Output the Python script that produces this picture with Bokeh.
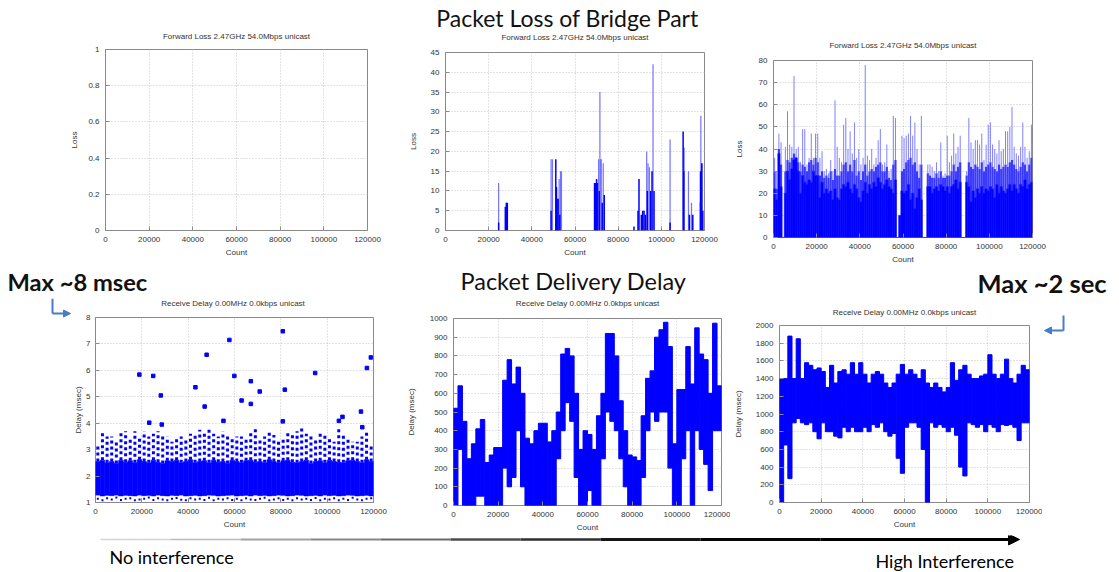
from bokeh.plotting import figure
from bokeh.layouts import column, row
from bokeh.models import (Range1d, FixedTicker, BasicTickFormatter, PrintfTickFormatter,
                          Label, Arrow, NormalHead)
from bokeh.embed import file_html
from bokeh.resources import INLINE

# ---------------------------------------------------------------- data
count_ticks = [0, 20000, 40000, 60000, 80000, 100000, 120000]
loss_title = "Forward Loss 2.47GHz 54.0Mbps unicast"
delay_title = "Receive Delay 0.00MHz 0.0kbps unicast"

# plot 1 (no interference): no loss at all
loss1_ticks = [0, 0.2, 0.4, 0.6, 0.8, 1.0]

# plot 2 (moderate interference): loss spikes
loss2_dark_x = [24620, 27720, 28180, 28650, 48930, 51100, 51410, 51720, 52180, 52960,
                69060, 69520, 69990, 70300, 71230, 72620, 73550, 87330, 89190, 89650,
                90740, 91360, 91980, 92600, 93520, 95070, 95690, 96620, 104050, 110100,
                110410, 113030, 114580, 118150, 118760, 119220]
loss2_dark_y = [2, 6, 7, 7, 5, 18, 11, 8, 8, 4,
                12, 12, 13, 12, 10, 7, 9, 1, 5, 13,
                4, 5, 5, 4, 10, 10, 15, 10, 2, 25,
                15, 4, 4, 15, 17, 5]
loss2_light_x = [24620, 48930, 49550, 52650, 53270, 53730, 70920, 71540, 71850, 72160,
                 73080, 93210, 93830, 94450, 96150, 104050, 110560, 112570, 113970, 117990,
                 118300, 118760]
loss2_light_y = [12, 18, 18, 13, 15, 15, 18, 35, 18, 18,
                 17, 20, 17, 16, 42, 23, 21, 15, 7, 7,
                 29, 17]
loss2_ticks = [0, 5, 10, 15, 20, 25, 30, 35, 40, 45]

# plot 3 (high interference): loss per 1000-count bin
loss3_bin_start = list(range(0, 120000, 1000))
loss3_base = [22, 17, 38, 23, 0, 20, 30, 26, 31, 35,
              36, 30, 20, 28, 25, 24, 26, 25, 30, 28,
              28, 18, 25, 20, 22, 20, 21, 17, 22, 18,
              17, 22, 24, 23, 25, 22, 20, 24, 22, 18,
              16, 21, 25, 20, 24, 22, 25, 23, 27, 25,
              22, 24, 26, 23, 22, 20, 26, 0, 10, 21,
              20, 21, 24, 17, 20, 13, 18, 22, 17, 0,
              0, 23, 23, 20, 22, 23, 21, 24, 23, 21,
              23, 20, 23, 24, 26, 22, 25, 0, 0, 25,
              23, 16, 21, 18, 22, 20, 23, 20, 22, 21,
              23, 22, 18, 24, 20, 23, 21, 20, 22, 24,
              21, 24, 22, 20, 24, 23, 26, 22, 24, 25]
loss3_mid = [30, 22, 40, 33, 0, 30, 35, 34, 36, 38,
             36, 34, 30, 33, 32, 30, 34, 35, 33, 36,
             34, 28, 30, 27, 28, 27, 30, 26, 31, 28,
             28, 30, 33, 34, 30, 33, 30, 35, 28, 30,
             26, 30, 33, 28, 30, 31, 30, 32, 33, 34,
             30, 30, 32, 27, 26, 33, 35, 0, 10, 30,
             31, 34, 35, 36, 33, 34, 30, 27, 33, 0,
             0, 29, 28, 27, 27, 29, 27, 30, 27, 27,
             28, 28, 30, 33, 30, 32, 34, 0, 0, 28,
             34, 32, 31, 33, 32, 31, 34, 30, 32, 33,
             34, 32, 31, 30, 33, 31, 32, 33, 32, 34,
             35, 33, 31, 30, 32, 34, 33, 30, 33, 36]
loss3_peak = [36, 30, 47, 43, 0, 41, 57, 42, 41, 73,
              40, 41, 34, 49, 49, 33, 36, 47, 36, 47,
              47, 36, 39, 30, 31, 29, 35, 30, 62, 41,
              36, 34, 51, 54, 40, 48, 38, 52, 36, 40,
              33, 36, 78, 37, 35, 40, 33, 36, 44, 49,
              33, 34, 42, 30, 31, 55, 54, 0, 10, 46,
              45, 46, 47, 55, 46, 52, 40, 33, 55, 0,
              0, 33, 33, 32, 30, 34, 30, 43, 28, 29,
              46, 34, 37, 47, 38, 41, 46, 0, 0, 30,
              54, 43, 40, 44, 44, 42, 47, 35, 42, 51,
              52, 42, 40, 38, 44, 39, 40, 48, 48, 50,
              59, 41, 38, 37, 41, 52, 41, 36, 39, 51]
loss3_ticks = [0, 10, 20, 30, 40, 50, 60, 70, 80]

# plot 4 (no interference): delay per 2000-count bin (msec)
bin2k_start = list(range(0, 120000, 2000))
delay4_lo = [1.28, 1.25, 1.27, 1.26, 1.28, 1.25, 1.27, 1.26, 1.25, 1.28,
             1.26, 1.27, 1.25, 1.28, 1.26, 1.25, 1.27, 1.26, 1.28, 1.25,
             1.26, 1.27, 1.25, 1.26, 1.28, 1.27, 1.25, 1.26, 1.27, 1.28,
             1.25, 1.26, 1.27, 1.25, 1.28, 1.26, 1.27, 1.25, 1.26, 1.28,
             1.27, 1.25, 1.26, 1.28, 1.27, 1.25, 1.26, 1.27, 1.25, 1.28,
             1.26, 1.27, 1.25, 1.26, 1.28, 1.27, 1.25, 1.26, 1.27, 1.25]
delay4_hi = [2.55, 2.6, 2.5, 2.55, 2.48, 2.6, 2.52, 2.58, 2.5, 2.62,
             2.55, 2.5, 2.6, 2.52, 2.48, 2.58, 2.55, 2.6, 2.5, 2.55,
             2.62, 2.5, 2.55, 2.58, 2.5, 2.6, 2.52, 2.55, 2.48, 2.6,
             2.55, 2.5, 2.58, 2.6, 2.52, 2.55, 2.5, 2.62, 2.55, 2.5,
             2.58, 2.6, 2.52, 2.5, 2.55, 2.6, 2.48, 2.55, 2.58, 2.5,
             2.6, 2.55, 2.52, 2.5, 2.58, 2.6, 2.55, 2.5, 2.62, 2.55]
delay4_sparse_max = [3.2, 3.7, 3.5, 3.5, 3.3, 3.7, 3.7, 3.4, 3.7, 3.5,
                     3.7, 3.5, 3.6, 3.7, 3.6, 3.5, 3.3, 3.4, 3.5, 3.4,
                     3.6, 3.6, 3.75, 3.6, 3.8, 3.6, 3.5, 3.7, 3.6, 3.5,
                     3.5, 3.5, 3.4, 3.65, 3.8, 3.4, 3.5, 3.7, 3.55, 3.4,
                     3.4, 3.7, 3.6, 3.7, 3.8, 3.6, 3.6, 3.4, 3.6, 3.6,
                     3.5, 3.3, 3.85, 3.6, 3.4, 3.3, 3.3, 3.5, 3.7, 3.2]
delay4_sparse_min = [1.1, 1.05, 1.12, 1.08, 1.15, 1.06, 1.1, 1.12, 1.05, 1.08,
                     1.1, 1.15, 1.06, 1.12, 1.08, 1.05, 1.1, 1.13, 1.07, 1.05,
                     1.12, 1.08, 1.1, 1.06, 1.14, 1.05, 1.1, 1.08, 1.12, 1.06,
                     1.1, 1.05, 1.12, 1.08, 1.06, 1.1, 1.14, 1.05, 1.08, 1.12,
                     1.06, 1.1, 1.05, 1.12, 1.08, 1.1, 1.06, 1.13, 1.05, 1.1,
                     1.08, 1.12, 1.05, 1.1, 1.06, 1.14, 1.08, 1.05, 1.1, 1.12]
delay4_out_x = [18930, 24910, 28190, 23200, 28610, 43130, 47120, 47970, 57790, 55230,
                59930, 63060, 67050, 67050, 70890, 80850, 80850, 81710, 94810, 105060,
                106620, 114590, 117150, 118860, 115160]
delay4_out_y = [5.84, 5.79, 5.05, 4.02, 3.95, 5.36, 4.63, 6.59, 7.15, 4.09,
                5.79, 4.86, 5.59, 4.73, 5.20, 7.48, 4.07, 5.27, 5.90, 4.09,
                4.24, 4.44, 6.09, 6.49, 3.85]
delay4_ticks = [1, 2, 3, 4, 5, 6, 7, 8]

# plot 5 (moderate interference): delay range per 2000-count bin (msec)
delay5_lo = [0, 300, 0, 0, 0, 50, 50, 0, 0, 0,
             0, 200, 100, 150, 400, 100, 0, 0, 0, 0,
             0, 0, 0, 250, 400, 550, 450, 150, 0, 0,
             80, 0, 0, 250, 500, 450, 400, 250, 100, 0,
             0, 0, 150, 400, 500, 450, 500, 500, 200, 0,
             0, 250, 400, 0, 400, 300, 220, 80, 400, 400]
delay5_hi = [520, 640, 450, 250, 330, 410, 460, 230, 270, 310,
             310, 670, 780, 650, 740, 600, 360, 330, 400, 440,
             440, 340, 400, 500, 810, 840, 800, 600, 300, 400,
             380, 300, 480, 600, 920, 920, 800, 560, 400, 270,
             260, 240, 480, 680, 720, 900, 940, 980, 850, 330,
             620, 620, 850, 650, 950, 810, 780, 600, 975, 640]
delay5_ticks = [0, 100, 200, 300, 400, 500, 600, 700, 800, 900, 1000]

# plot 6 (high interference): delay range per 2000-count bin (msec)
delay6_lo = [0, 650, 270, 900, 950, 900, 880, 900, 800, 720,
             900, 800, 800, 750, 730, 850, 800, 850, 800, 800,
             850, 800, 880, 850, 900, 800, 750, 780, 500, 330,
             850, 900, 900, 850, 600, 0, 900, 850, 880, 850,
             800, 850, 760, 400, 300, 900, 880, 850, 880, 800,
             880, 850, 800, 880, 870, 880, 850, 700, 900, 900]
delay6_hi = [1400, 1400, 1880, 1400, 1850, 1400, 1580, 1550, 1500, 1520,
             1480, 1300, 1550, 1350, 1480, 1500, 1450, 1580, 1450, 1580,
             1450, 1350, 1450, 1480, 1450, 1350, 1300, 1350, 1450, 1560,
             1450, 1500, 1450, 1400, 1500, 1350, 1300, 1350, 1300, 1250,
             1300, 1580, 1380, 1500, 1550, 1450, 1400, 1400, 1430, 1450,
             1670, 1450, 1400, 1450, 1620, 1400, 1350, 1450, 1550, 1500]
delay6_ticks = [0, 200, 400, 600, 800, 1000, 1200, 1400, 1600, 1800, 2000]

# ---------------------------------------------------------------- styling helpers
SMALL_FONT = "Liberation Sans"
BIG_FONT = "Lato"
BLUE = "#0000ff"
ARROW_BLUE = "#4a7cc7"
TXT = "#333333"


def no_align(p):
    try:
        p.frame_align = False
    except Exception:
        pass


def tfig(x0, y0, w, h, left=0, right=0):
    """text/decoration strip whose data coordinates are page pixels"""
    p = figure(width=w, height=h, output_backend="svg", toolbar_location=None,
               x_range=Range1d(x0 + left, x0 + w - right), y_range=Range1d(y0 + h, y0),
               x_axis_type=None, y_axis_type=None,
               min_border_left=left, min_border_right=right,
               min_border_top=0, min_border_bottom=0)
    p.outline_line_color = None
    p.background_fill_color = None
    p.border_fill_color = None
    no_align(p)
    return p


def text(p, x, y, s, size, font=BIG_FONT, bold=False, align="left", color="#111111"):
    p.add_layout(Label(x=x, y=y, text=s, text_font=font, text_font_size=size,
                       text_font_style="bold" if bold else "normal", text_color=color,
                       text_align=align, text_baseline="middle"))


def small_title(p, x, y, s):
    text(p, x, y, s, "8px", font=SMALL_FONT, align="center", color=TXT)


def l_arrow(p, a, b, c):
    p.add_layout(Arrow(end=None, x_start=a[0], y_start=a[1], x_end=b[0], y_end=b[1],
                       line_color=ARROW_BLUE, line_width=2))
    p.add_layout(Arrow(end=NormalHead(size=7, fill_color=ARROW_BLUE, line_color=ARROW_BLUE),
                       x_start=b[0], y_start=b[1], x_end=c[0], y_end=c[1],
                       line_color=ARROW_BLUE, line_width=2))


def make_plot(w, h, left, right, top, bottom, yr, yticks, ylabel, ylab_standoff,
              ytick_standoff=6):
    p = figure(width=w, height=h, output_backend="svg", toolbar_location=None,
               x_range=Range1d(0, 120000), y_range=Range1d(*yr),
               min_border_left=left, min_border_right=right,
               min_border_top=top, min_border_bottom=bottom)
    no_align(p)
    p.outline_line_color = "#8a8a8a"
    p.outline_line_width = 1
    p.background_fill_color = "white"
    p.border_fill_color = "white"
    p.xaxis.ticker = FixedTicker(ticks=count_ticks)
    p.xaxis.formatter = BasicTickFormatter(use_scientific=False)
    p.yaxis.ticker = FixedTicker(ticks=yticks)
    p.yaxis.formatter = PrintfTickFormatter(format="%g")
    for ax in (p.xaxis[0], p.yaxis[0]):
        ax.axis_line_color = None
        ax.major_tick_in = 4
        ax.major_tick_out = 0
        ax.major_tick_line_color = "#8a8a8a"
        ax.minor_tick_line_color = None
        ax.major_label_text_font = SMALL_FONT
        ax.major_label_text_font_size = "8px"
        ax.major_label_text_color = TXT
        ax.axis_label_text_font = SMALL_FONT
        ax.axis_label_text_font_size = "8px"
        ax.axis_label_text_font_style = "normal"
        ax.axis_label_text_color = TXT
    p.xaxis.major_label_standoff = 6
    p.yaxis.major_label_standoff = ytick_standoff
    p.xaxis.axis_label = "Count"
    p.xaxis.axis_label_standoff = 3
    p.yaxis.axis_label = ylabel
    p.yaxis.axis_label_standoff = ylab_standoff
    for g in (p.xgrid[0], p.ygrid[0]):
        g.grid_line_color = "#c4c4c4"
        g.grid_line_dash = "1 2"
        g.grid_line_width = 1
    return p


# ---------------------------------------------------------------- header strip (y 0-31)
head = tfig(0, 0, 1119, 31)
text(head, 567, 17.3, "Packet Loss of Bridge Part", "23px", align="center")

# ---------------------------------------------------------------- top row (y 31-266)
t1 = tfig(0, 31, 400, 13, 105, 33)
small_title(t1, 236, 35.8, loss_title)
p1 = make_plot(400, 215, 105, 33, 5, 29, (0, 1), loss1_ticks, "Loss", 6)

t2 = tfig(400, 31, 325, 15, 45, 21)
small_title(t2, 574.5, 37, loss_title)
p2 = make_plot(325, 213, 45, 21, 6, 29, (0, 45), loss2_ticks, "Loss", 10)
p2.segment(x0=loss2_light_x, y0=[0] * len(loss2_light_x), x1=loss2_light_x, y1=loss2_light_y,
           line_color="#7373ff", line_width=1.2)
p2.segment(x0=loss2_dark_x, y0=[0] * len(loss2_dark_x), x1=loss2_dark_x, y1=loss2_dark_y,
           line_color=BLUE, line_width=1.5)

t3 = tfig(725, 31, 394, 23, 48, 87)
small_title(t3, 902.5, 45, loss_title)
p3 = make_plot(394, 212, 48, 87, 6, 28, (0, 80), loss3_ticks, "Loss", 12)
x3 = [s + 500 for s in loss3_bin_start]
p3.segment(x0=x3, y0=loss3_mid, x1=x3, y1=loss3_peak, line_color="#8080ff", line_width=1)
p3.vbar(x=x3, width=1000, bottom=loss3_base, top=loss3_mid, fill_color="#3a3aff",
        line_color=None)
p3.vbar(x=x3, width=1000, bottom=0, top=loss3_base, fill_color=BLUE, line_color=BLUE,
        line_width=0.6)

top_row = row(column(t1, p1), column(t2, p2), column(t3, p3))

# ---------------------------------------------------------------- middle strip (y 266-298)
mid = tfig(0, 266, 1119, 32)
text(mid, 7, 281.5, "Max ~8 msec", "23.7px", bold=True)
text(mid, 573, 280, "Packet Delivery Delay", "23.5px", align="center")
text(mid, 977, 282.7, "Max ~2 sec", "25.5px", bold=True)

# ---------------------------------------------------------------- bottom row (y 298-535)
aL = tfig(0, 298, 71, 22)
l_arrow(aL, (52, 298), (52, 313), (70, 313))

t4 = tfig(71, 298, 329, 13, 21, 27)
small_title(t4, 232.5, 302.8, delay_title)
p4 = make_plot(329, 224, 21, 27, 6, 33, (1, 8), delay4_ticks, "Delay (msec)", 0,
               ytick_standoff=5)
x4 = [s + 1000 for s in bin2k_start]
p4.segment(x0=x4, y0=delay4_hi, x1=x4, y1=delay4_sparse_max, line_color=BLUE,
           line_width=3, line_dash="3 3")
p4.segment(x0=x4, y0=delay4_sparse_min, x1=x4, y1=delay4_lo, line_color=BLUE,
           line_width=2, line_dash="2 4")
p4.quad(left=bin2k_start, right=[s + 2000 for s in bin2k_start], bottom=delay4_lo,
        top=delay4_hi, fill_color=BLUE, line_color=BLUE, line_width=0.6)
p4.scatter(x=delay4_out_x, y=delay4_out_y, marker="square", size=3.5, fill_color=BLUE,
           line_color=BLUE)

t5 = tfig(400, 298, 330, 14, 53, 9)
small_title(t5, 587, 303.2, delay_title)
p5 = make_plot(330, 223, 53, 9, 6, 30, (0, 1000), delay5_ticks, "Delay (msec)", 11)
p5.quad(left=bin2k_start, right=[s + 2000 for s in bin2k_start], bottom=delay5_lo,
        top=delay5_hi, fill_color=BLUE, line_color=BLUE, line_width=1)

t6 = tfig(730, 298, 312, 21, 49, 13)
small_title(t6, 904, 311.5, delay_title)
p6 = make_plot(312, 216, 49, 13, 6, 33, (0, 2000), delay6_ticks, "Delay (msec)", 10)
p6.quad(left=bin2k_start, right=[s + 2000 for s in bin2k_start], bottom=delay6_lo,
        top=delay6_hi, fill_color=BLUE, line_color=BLUE, line_width=1)

aR = tfig(1042, 298, 77, 40)
l_arrow(aR, (1063, 315), (1063, 330), (1044, 330))

bottom_row = row(column(aL), column(t4, p4), column(t5, p5), column(t6, p6), column(aR))

# ---------------------------------------------------------------- footer (y 535-571)
foot = tfig(0, 535, 1119, 36)
grad_x = [100, 170, 240, 310, 380, 450, 520, 600, 700, 820, 1005]
grad_c = ["#d4d4d4", "#bcbcbc", "#a2a2a2", "#878787", "#6a6a6a", "#4c4c4c",
          "#2e2e2e", "#161616", "#050505", "#000000"]
grad_w = [1.4, 1.6, 1.8, 2.0, 2.2, 2.4, 2.6, 2.8, 3.0, 3.0]
foot.segment(x0=grad_x[:-1], y0=[539] * 10, x1=grad_x[1:], y1=[539] * 10,
             line_color=grad_c, line_width=grad_w)
foot.add_layout(Arrow(end=NormalHead(size=11, fill_color="black", line_color="black"),
                      x_start=1000, y_start=539, x_end=1019, y_end=539,
                      line_color="black", line_width=3))
text(foot, 109, 556, "No interference", "18px", color="#000000")
text(foot, 875, 560, "High Interference", "18px", color="#000000")

layout = column(head, top_row, mid, bottom_row, foot)
open("out.html", "w").write(file_html(layout, INLINE))
